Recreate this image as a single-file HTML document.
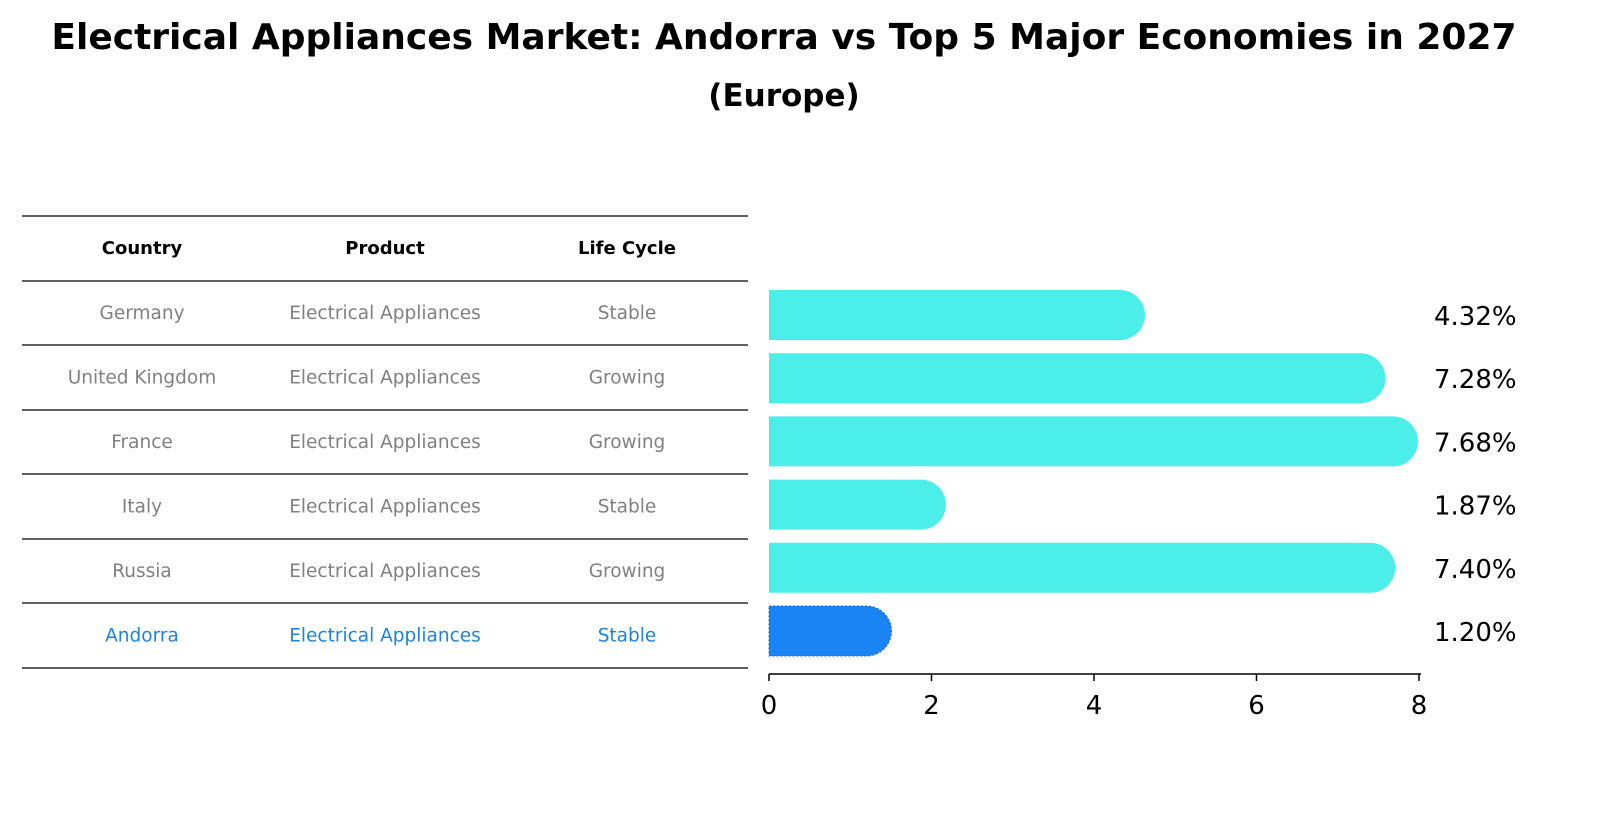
<!DOCTYPE html>
<html><head><meta charset="utf-8"><style>
body{margin:0;background:#fff;font-family:"DejaVu Sans","Liberation Sans",sans-serif;}
</style></head><body>
<svg width="1620" height="823" xmlns="http://www.w3.org/2000/svg" font-family="DejaVu Sans, Liberation Sans, sans-serif">
<text x="784" y="49" text-anchor="middle" font-size="36" font-weight="bold">Electrical Appliances Market: Andorra vs Top 5 Major Economies in 2027</text>
<text x="784" y="106" text-anchor="middle" font-size="31" font-weight="bold">(Europe)</text>
<g id="table"></g>
<g id="bars"></g>
</svg>
<script>
const countries=["Germany","United Kingdom","France","Italy","Russia","Andorra"];
const products=["Electrical Appliances","Electrical Appliances","Electrical Appliances","Electrical Appliances","Electrical Appliances","Electrical Appliances"];
const lifecycle=["Stable","Growing","Growing","Stable","Growing","Stable"];
const values=[4.32,7.28,7.68,1.87,7.40,1.20];
const ticks=[0,2,4,6,8];
const NS="http://www.w3.org/2000/svg";
function mk(tag,attrs,parent,text){const e=document.createElementNS(NS,tag);for(const k in attrs)e.setAttribute(k,attrs[k]);if(text!==undefined)e.textContent=text;parent.appendChild(e);return e;}
const tbl=document.getElementById('table');
const lineYs=[216,281,345,410,474,539,603,668];
lineYs.forEach(y=>{const l=mk('line',{x1:22,x2:748,y1:y,y2:y,stroke:'#000','stroke-width':1.2},tbl);

});
const colX=[142,385,627];
["Country","Product","Life Cycle"].forEach((h,i)=>{const t=mk('text',{x:colX[i],y:254,'text-anchor':'middle','font-size':18,'font-weight':'bold'},tbl,h);

});
countries.forEach((c,r)=>{const y=(lineYs[r+1]+lineYs[r+2])/2+6;const col=r===countries.length-1?'#1a84e0':'#808080';
[c,products[r],lifecycle[r]].forEach((v,i)=>{const t=mk('text',{x:colX[i],y:y,'text-anchor':'middle','font-size':18.5,fill:col},tbl,v);

});});
const g=document.getElementById('bars');
const x0=769,pxPer=81.25;const xs=v=>x0+v*pxPer;
const rowY=i=>315+i*63.2;const h=50,r=25;
values.forEach((v,i)=>{const cy=rowY(i);const last=i===values.length-1;const fill=last?'#1a84f5':'#4ceeea';
const xe=xs(v);
const p=mk('path',{d:`M${x0} ${cy-h/2} H${xe} A${r} ${r} 0 0 1 ${xe} ${cy+h/2} H${x0} Z`,fill:fill,stroke:last?'#1468c0':'none','stroke-dasharray':last?'2,2':'','stroke-width':1},g);


const t=mk('text',{x:1434,y:cy+10,'font-size':26},g,v.toFixed(2)+'%');

});
const ax=mk('line',{x1:x0,x2:xs(8)+2,y1:674,y2:674,stroke:'#000','stroke-width':1.5},g);


ticks.forEach(t=>{const tl=mk('line',{x1:xs(t),x2:xs(t),y1:674,y2:681,stroke:'#000','stroke-width':1.5},g);


const tx=mk('text',{x:xs(t),y:714,'text-anchor':'middle','font-size':26},g,String(t));

});
</script>
</body></html>
